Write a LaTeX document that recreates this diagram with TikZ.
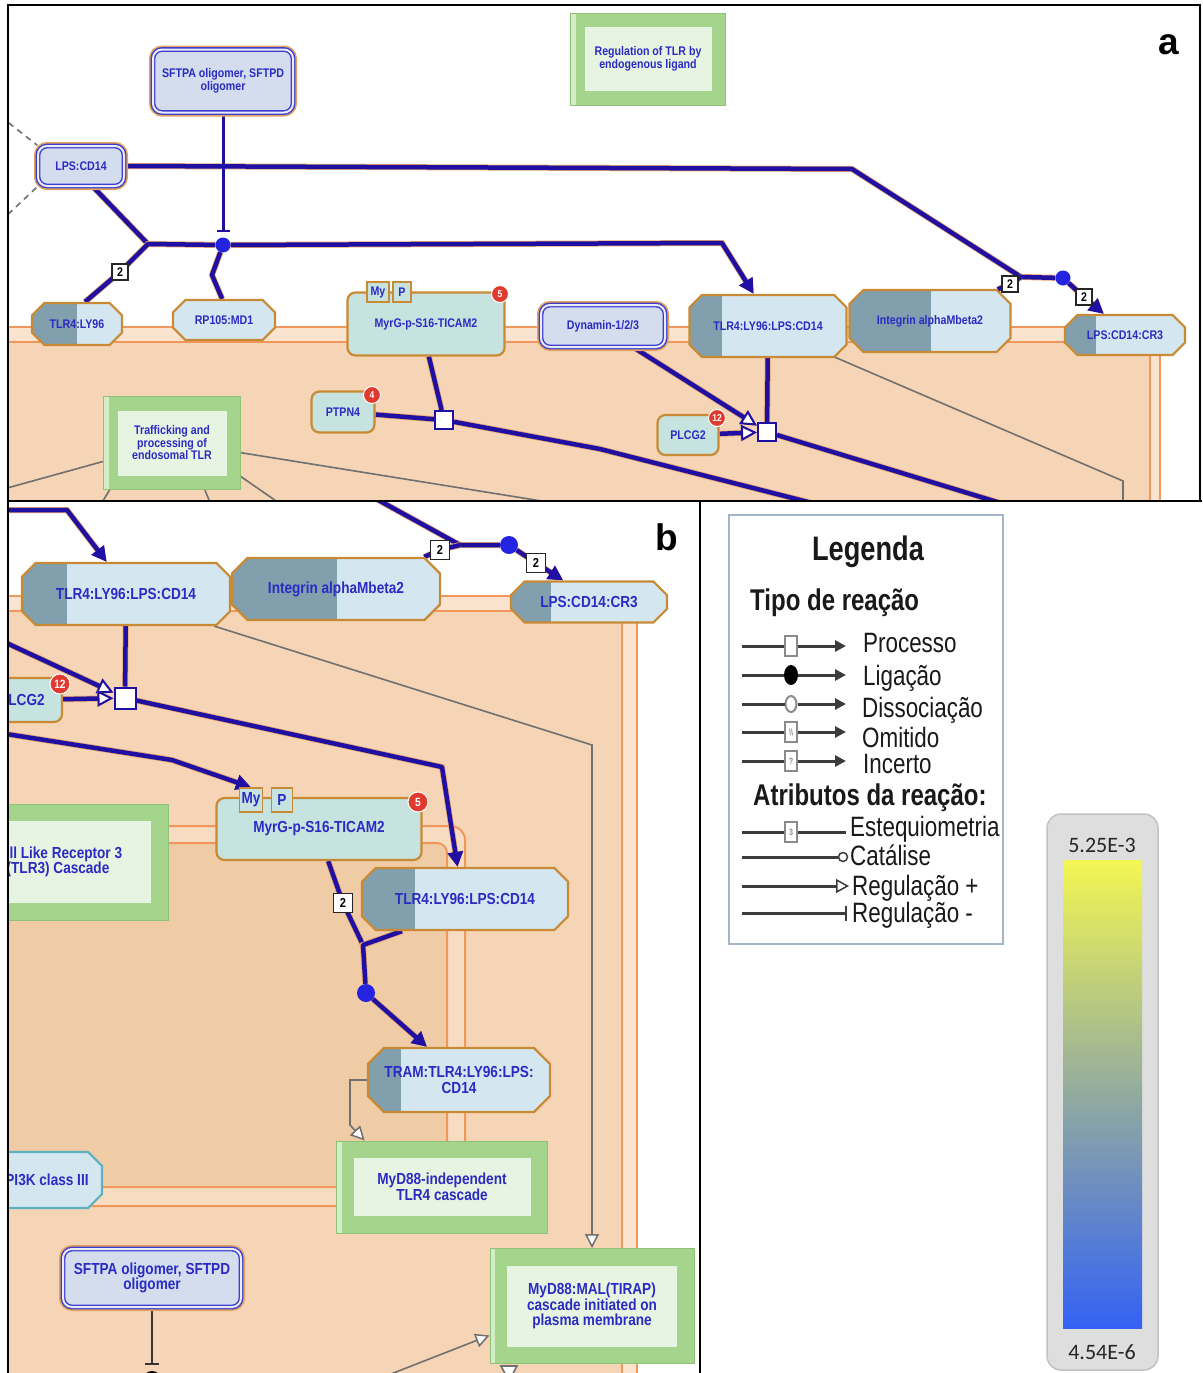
\documentclass[tikz,border=0pt]{standalone}
\usepackage{fontspec}
\setmainfont{Liberation Sans}
\newfontfamily\nodefont[FakeStretch=0.85]{Liberation Sans}
\newfontfamily\legfont[FakeStretch=0.8]{Liberation Sans}
\newfontfamily\barfont{Carlito}
\usetikzlibrary{shapes.misc,shapes.geometric,arrows.meta,positioning}

\definecolor{peach}{HTML}{F5D5B5}
\definecolor{membfill}{HTML}{FBE4CF}
\definecolor{innerfill}{HTML}{EFCBA6}
\definecolor{innerband}{HTML}{F8DCC1}
\definecolor{membline}{HTML}{F2975C}
\definecolor{cfill}{HTML}{D4E7F1}
\definecolor{cdark}{HTML}{819FAD}
\definecolor{pfill}{HTML}{C6E3DF}
\definecolor{efill}{HTML}{D3DDEE}
\definecolor{eblue}{HTML}{3D3DD2}
\definecolor{eglow}{HTML}{E3A25E}
\definecolor{nodeedge}{HTML}{C88A35}
\definecolor{nodeblue}{HTML}{2B2BC4}
\definecolor{pwgreen}{HTML}{A5D58D}
\definecolor{pwlight}{HTML}{E8F4E2}
\definecolor{pwedge}{HTML}{8DC277}
\definecolor{pwstrip}{HTML}{D3EEC6}
\definecolor{rxnblue}{HTML}{1F0FA3}
\definecolor{rxnhalo}{HTML}{E7A46C}
\definecolor{bindblue}{HTML}{2424E0}
\definecolor{greyline}{HTML}{707070}
\definecolor{badgered}{HTML}{E0392E}
\definecolor{pikedge}{HTML}{5FB0C0}
\definecolor{legdark}{HTML}{3C3C3C}
\definecolor{leggrey}{HTML}{8A8A8A}
\definecolor{legedge}{HTML}{A3B6C9}
\definecolor{barfill}{HTML}{DEDEDE}
\definecolor{baredge}{HTML}{C2C2C2}
\definecolor{cbtop}{HTML}{F3F652}
\definecolor{cbmid}{HTML}{92AB9F}
\definecolor{cbbot}{HTML}{3362F4}

\pgfdeclarelayer{bg}
\pgfdeclarelayer{edge}
\pgfsetlayers{bg,edge,main}

\newcommand{\sizeA}{\nodefont\bfseries\fontsize{12.5}{12.5}\selectfont}
\newcommand{\sizeB}{\nodefont\bfseries\fontsize{16}{15.5}\selectfont}

\tikzset{
  every node/.style={inner sep=0pt, align=center, font=\sizeA},
  cplx/.style={chamfered rectangle, chamfered rectangle xsep=8pt, chamfered rectangle ysep=8pt,
    draw=nodeedge, line width=2.2pt, fill=cfill, text=nodeblue,
    path picture={\fill[cdark] (path picture bounding box.north west) rectangle ([xshift=#1]path picture bounding box.south west);}},
  cplx/.default=0pt,
  prot/.style={rounded corners=8pt, draw=nodeedge, line width=2.2pt, fill=pfill, text=nodeblue},
  ent/.style={rounded corners=9pt, fill=efill, draw=eblue, line width=1.4pt, double=efill!50!white,
    double distance=2pt, preaction={draw=eglow, line width=8pt}, text=nodeblue},
  pw/.style={fill=pwgreen, draw=pwedge, line width=1pt, text=nodeblue,
    path picture={\fill[pwlight] ([shift={(#1,-#1)}]path picture bounding box.north west) rectangle ([shift={(-#1,#1)}]path picture bounding box.south east);
      \fill[pwstrip] (path picture bounding box.north west) rectangle ([xshift=5pt]path picture bounding box.south west);}},
  tab/.style={draw=nodeedge, line width=1.5pt, fill=pfill, text=nodeblue},
  badge/.style={circle, fill=badgered, draw=white, line width=1pt, text=white, minimum size=17pt,
    font=\nodefont\bfseries\fontsize{10}{10}\selectfont},
  stoich/.style={draw=black!85, line width=1.5pt, fill=white, text=black, minimum size=16pt},
  proc/.style={draw=rxnblue, line width=2pt, fill=white, minimum size=#1},
  bind/.style={circle, fill=bindblue, minimum size=#1},
  memb/.style={draw=membline, line width=2pt},
  rxn/.style={draw=rxnblue, line width=4.5pt, line join=round, preaction={draw=rxnhalo, line width=6pt}},
  sline/.style={draw=rxnblue, line width=3pt},
  kline/.style={draw=black!80, line width=1.5pt},
  hit/.style={-{Triangle[length=15pt,width=15pt]}},
  plus/.style={-{Triangle[open,length=16pt,width=16pt,fill=white,line width=2pt]}},
  inhib/.style={-{Bar[width=13pt,line width=2.5pt]}, shorten >=5pt},
  glink/.style={draw=greyline, line width=1.6pt},
  gplus/.style={-{Triangle[open,length=14pt,width=14pt,fill=white,line width=1.5pt]}},
  legline/.style={draw=legdark, line width=3pt},
  legtip/.style={-{Triangle[length=11pt,width=11pt]}},
  symbox/.style={draw=leggrey, line width=1.5pt, fill=white, minimum width=12pt, minimum height=20pt,
    text=leggrey, font=\legfont\bfseries\fontsize{9}{9}\selectfont},
  leghead/.style={anchor=base west, text=black!90, font=\legfont\bfseries\fontsize{30}{30}\selectfont},
  legtext/.style={anchor=base west, text=black!90, font=\legfont\fontsize{28}{28}\selectfont}
}

\begin{document}
\begin{tikzpicture}[x=1pt, y=-1pt]
\useasboundingbox (0,0) rectangle (1202,1373);

% backgrounds and membranes
\begin{pgfonlayer}{bg}
\fill[white] (0,0) rectangle (1202,1373);
\begin{scope}
\clip (8,5) rectangle (1200,501);
\fill[membfill] (8,327) rectangle (1160,510);
\fill[peach] (8,342) rectangle (1150,510);
\draw[memb] (0,327) -- (1160,327) -- (1160,510);
\draw[memb] (0,342) -- (1150,342) -- (1150,510);
\end{scope}
\begin{scope}
\clip (8,501) rectangle (700,1373);
\fill[membfill] (8,596) rectangle (637,1380);
\fill[peach] (8,611) rectangle (622,1380);
\fill[innerband, rounded corners=14pt] (-60,826) rectangle (465,1206);
\fill[innerfill, rounded corners=10pt] (-60,843) rectangle (447,1187);
\draw[memb, rounded corners=14pt] (-60,826) rectangle (465,1206);
\draw[memb, rounded corners=10pt] (-60,843) rectangle (447,1187);
\draw[memb] (0,596) -- (637,596) -- (637,1380);
\draw[memb] (0,611) -- (622,611) -- (622,1380);
\end{scope}
\end{pgfonlayer}

% panel a
\begin{scope}
\clip (8,5) rectangle (1200,501);
\node[ent, minimum width=140pt, minimum height=63pt] (sftpaA) at (223,81) {SFTPA oligomer, SFTPD\\oligomer};
\node[ent, minimum width=86pt, minimum height=40pt] (lpsA) at (81,166) {LPS:CD14};
\node[pw=14pt, minimum width=155pt, minimum height=92pt] (regA) at (648,59) {Regulation of TLR by\\endogenous ligand};
\node[cplx=45pt, minimum width=90pt, minimum height=42pt] (tlrlyA) at (77,324) {TLR4:LY96};
\node[cplx, minimum width=102pt, minimum height=40pt] (rpA) at (224,320) {RP105:MD1};
\node[prot, minimum width=157pt, minimum height=63pt] (myrgA) at (426,324) {MyrG-p-S16-TICAM2};
\node[tab, minimum width=22pt, minimum height=20pt] (myA) at (378,292) {My};
\node[tab, minimum width=18pt, minimum height=20pt] (pA) at (402,292) {P};
\node[badge] (b5A) at (500,294) {5};
\node[ent, minimum width=124pt, minimum height=42pt] (dynA) at (603,326) {Dynamin-1/2/3};
\node[cplx=32pt, minimum width=157pt, minimum height=62pt] (tlrlpsA) at (768,326) {TLR4:LY96:LPS:CD14};
\node[cplx=81pt, minimum width=161pt, minimum height=62pt] (integA) at (930,321) {Integrin alphaMbeta2};
\node[cplx=31pt, minimum width=120pt, minimum height=40pt] (crA) at (1125,335) {LPS:CD14:CR3};
\node[prot, minimum width=63pt, minimum height=41pt] (ptpnA) at (343,412) {PTPN4};
\node[badge] (b4A) at (372,395) {4};
\node[proc=18pt] (procA) at (444,420) {};
\node[prot, minimum width=61pt, minimum height=40pt] (plcgA) at (688,435) {PLCG2};
\node[badge] (b12A) at (717,418) {12};
\node[proc=18pt] (procB) at (767,432) {};
\node[pw=14pt, minimum width=137pt, minimum height=93pt] (trafA) at (172,443) {Trafficking and\\processing of\\endosomal TLR};
\node[bind=15pt] (dotA) at (1063,278) {};
\node[bind=15pt] (dotB) at (223,245) {};
\coordinate (jA) at (1021,277);
\coordinate (jB) at (148,244);
\node[stoich] (s1A) at (1010,284) {2};
\node[stoich] (s2A) at (1084,297) {2};
\node[stoich] (s3A) at (120,272) {2};
\node[font=\bfseries\fontsize{37}{37}\selectfont] (labA) at (1169,45) {a};
\end{scope}

\begin{pgfonlayer}{edge}
\begin{scope}
\clip (8,5) rectangle (1200,501);
\draw[glink, dash pattern=on 6pt off 5pt] (0,116) -- (lpsA.north west);
\draw[glink, dash pattern=on 6pt off 5pt] (0,222) -- (lpsA.south west);
\draw[glink] (tlrlpsA.-25) -- (1123,481) -- (1123,512);
\draw[glink] (trafA.195) -- (0,490);
\draw[glink] (trafA.-143) -- (96,512);
\draw[glink] (trafA.-55) -- (214,512);
\draw[glink] (trafA.-26) -- (292,512);
\draw[glink] (trafA.-8) -- (610,512);
\draw[rxn] (lpsA.east) -- (852,169) -- (jA) -- (dotA);
\draw[rxn] (integA.25) -- (s1A.center) -- (jA);
\draw[rxn, hit] (dotA) -- (s2A.center) -- (crA.135);
\draw[rxn] (lpsA.-60) -- (jB);
\draw[rxn] (tlrlyA.70) -- (s3A.center) -- (jB) -- (dotB);
\draw[rxn, hit] (dotB) -- (722,243) -- (tlrlpsA.114);
\draw[rxn] (rpA.95) -- (212,275) -- (dotB);
\draw[sline, inhib] (sftpaA) -- (dotB);
\draw[rxn] (myrgA.-85) -- (procA);
\draw[rxn] (ptpnA) -- (procA);
\draw[rxn] (procA) -- (600,449) -- (812,503);
\draw[rxn, plus] (dynA.-35) -- (procB);
\draw[rxn, plus] (plcgA) -- (procB);
\draw[rxn] (tlrlpsA) -- (procB);
\draw[rxn] (procB) -- (1030,512);
\end{scope}
\end{pgfonlayer}

% panel b
\begin{scope}[every node/.append style={font=\sizeB}]
\clip (8,501) rectangle (700,1373);
\node[cplx=45pt, minimum width=208pt, minimum height=62pt] (tlrlpsB) at (126,594) {TLR4:LY96:LPS:CD14};
\node[cplx=105pt, minimum width=208pt, minimum height=62pt] (integB) at (336,589) {Integrin alphaMbeta2};
\node[cplx=40pt, minimum width=156pt, minimum height=41pt] (crB) at (589,602) {LPS:CD14:CR3};
\node[prot, minimum width=80pt, minimum height=44pt] (plcgB) at (22,700) {PLCG2};
\node[badge, minimum size=20pt, font=\nodefont\bfseries\fontsize{12}{12}\selectfont] (b12B) at (60,684) {12};
\node[proc=21pt] (procC) at (125,698) {};
\node[prot, minimum width=205pt, minimum height=62pt] (myrgB) at (319,829) {MyrG-p-S16-TICAM2};
\node[tab, minimum width=23pt, minimum height=24pt] (myB) at (251,800) {My};
\node[tab, minimum width=21pt, minimum height=24pt] (pB) at (282,800) {P};
\node[badge, minimum size=20pt, font=\nodefont\bfseries\fontsize{12}{12}\selectfont] (b5B) at (418,802) {5};
\node[pw=17pt, minimum width=220pt, minimum height=116pt] (tlr3B) at (58,862) {Toll Like Receptor 3\\(TLR3) Cascade};
\node[cplx=53pt, minimum width=206pt, minimum height=62pt] (tlrlps2B) at (465,899) {TLR4:LY96:LPS:CD14};
\node[cplx=33pt, minimum width=182pt, minimum height=64pt] (tramB) at (459,1080) {TRAM:TLR4:LY96:LPS:\\CD14};
\node[pw=17pt, minimum width=211pt, minimum height=92pt] (indepB) at (442,1187) {MyD88-independent\\TLR4 cascade};
\node[cplx, draw=pikedge, minimum width=110pt, minimum height=56pt] (pi3kB) at (47,1180) {PI3K class III};
\node[ent, minimum width=178pt, minimum height=58pt] (sftpaB) at (152,1278) {SFTPA oligomer, SFTPD\\oligomer};
\node[pw=17pt, minimum width=204pt, minimum height=115pt] (malB) at (592,1306) {MyD88:MAL(TIRAP)\\cascade initiated on\\plasma membrane};
\node[bind=18pt] (dotC) at (509,545) {};
\node[bind=18pt] (dotD) at (366,993) {};
\node[bind=18pt, fill=black] (dotE) at (152,1380) {};
\coordinate (jC) at (460,545);
\coordinate (jD) at (363,945);
\node[stoich, minimum size=19pt, font=\nodefont\bfseries\fontsize{13}{13}\selectfont] (s1B) at (440,550) {2};
\node[stoich, minimum size=19pt, font=\nodefont\bfseries\fontsize{13}{13}\selectfont] (s2B) at (536,563) {2};
\node[stoich, minimum size=19pt, font=\nodefont\bfseries\fontsize{13}{13}\selectfont] (s3B) at (343,903) {2};
\draw[glink, fill=white] (501,1366) -- (517,1366) -- (509,1381) -- cycle;
\node[font=\bfseries\fontsize{37}{37}\selectfont] (labB) at (667,537) {b};
\end{scope}

\begin{pgfonlayer}{edge}
\begin{scope}
\clip (8,501) rectangle (700,1373);
\draw[glink, gplus] (tlrlpsB.-20) -- (592,745) -- (malB.north);
\draw[glink, gplus] (tramB.west) -- (350,1080) -- (350,1125) -- (indepB.149);
\draw[glink, gplus] (350,1390) -- (malB.196);
\draw[rxn, hit] (0,510) -- (67,510) -- (tlrlpsB.121);
\draw[rxn] (360,490) -- (jC) -- (dotC);
\draw[rxn] (integB.20) -- (s1B.center) -- (jC);
\draw[rxn, hit] (dotC) -- (s2B.center) -- (crB.140);
\draw[rxn] (tlrlpsB) -- (procC);
\draw[rxn, plus] (0,640) -- (procC);
\draw[rxn, plus] (plcgB) -- (procC);
\draw[rxn, hit] (procC) -- (442,767) -- (tlrlps2B.103);
\draw[rxn, hit] (0,733) -- (172,760) -- (myB.north);
\draw[rxn] (myrgB.-74) -- (s3B.center) -- (jD);
\draw[rxn] (tlrlps2B.-153) -- (jD) -- (dotD);
\draw[rxn, hit] (dotD) -- (tramB.134);
\draw[kline, -{Bar[width=14pt,line width=2pt]}, shorten >=6pt] (sftpaB) -- (dotE);
\end{scope}
\end{pgfonlayer}

% legend
\node[draw=legedge, line width=1.5pt, minimum width=274pt, minimum height=429pt] (legbox) at (866,729.5) {};
\node[anchor=base, text=black!90, font=\legfont\bfseries\fontsize{34}{34}\selectfont] (legtitle) at (868,560) {Legenda};
\node[leghead] (legtipo) at (750,610) {Tipo de reação};
\coordinate (l1) at (742,646); \coordinate (r1) at (846,646);
\node[symbox] (sym1) at (791,646) {};
\draw[legline] (l1) -- (sym1); \draw[legline, legtip] (sym1) -- (r1);
\node[legtext] (t1) at (863,652) {Processo};
\coordinate (l2) at (742,675); \coordinate (r2) at (846,675);
\node[ellipse, fill=black, minimum width=14pt, minimum height=20pt] (sym2) at (791,675) {};
\draw[legline] (l2) -- (sym2); \draw[legline, legtip] (sym2) -- (r2);
\node[legtext] (t2) at (863,685) {Ligação};
\coordinate (l3) at (742,704); \coordinate (r3) at (846,704);
\node[ellipse, draw=leggrey, line width=2pt, fill=white, minimum width=11pt, minimum height=16pt] (sym3) at (791,704) {};
\draw[legline] (l3) -- (sym3); \draw[legline, legtip] (sym3) -- (r3);
\node[legtext] (t3) at (862,717) {Dissociação};
\coordinate (l4) at (742,732); \coordinate (r4) at (846,732);
\node[symbox] (sym4) at (791,732) {\textbackslash\textbackslash};
\draw[legline] (l4) -- (sym4); \draw[legline, legtip] (sym4) -- (r4);
\node[legtext] (t4) at (862,747) {Omitido};
\coordinate (l5) at (742,761); \coordinate (r5) at (846,761);
\node[symbox] (sym5) at (791,761) {?};
\draw[legline] (l5) -- (sym5); \draw[legline, legtip] (sym5) -- (r5);
\node[legtext] (t5) at (863,773) {Incerto};
\node[leghead] (legattr) at (753,805) {Atributos da reação:};
\coordinate (l6) at (742,832); \coordinate (r6) at (846,832);
\node[symbox] (sym6) at (791,832) {3};
\draw[legline] (l6) -- (sym6) -- (r6);
\node[legtext] (t6) at (850,836) {Estequiometria};
\coordinate (l7) at (742,857);
\node[circle, draw=legdark, line width=1.5pt, fill=white, minimum size=9pt] (sym7) at (843,857) {};
\draw[legline] (l7) -- (sym7);
\node[legtext] (t7) at (850,865) {Catálise};
\coordinate (l8) at (742,886); \coordinate (r8) at (849,886);
\draw[legline, -{Triangle[open,length=13pt,width=14pt,fill=white,line width=1.5pt]}] (l8) -- (r8);
\node[legtext] (t8) at (852,895) {Regulação +};
\coordinate (l9) at (742,913); \coordinate (r9) at (847,913);
\draw[legline, -{Bar[width=15pt,line width=2pt]}] (l9) -- (r9);
\node[legtext] (t9) at (852,922) {Regulação -};

% colour scale
\node[draw=baredge, line width=1.5pt, fill=barfill, rounded corners=14pt, minimum width=111pt, minimum height=556pt] (cbar) at (1102.5,1092) {};
\shade[top color=cbtop, bottom color=cbbot, middle color=cbmid] (1063,860) rectangle (1142,1328);
\node[font=\barfont\fontsize{22}{22}\selectfont, text=black!85] (cbmax) at (1102,845) {5.25E-3};
\node[font=\barfont\fontsize{22}{22}\selectfont, text=black!85] (cbmin) at (1102,1352) {4.54E-6};

% panel frames
\draw[line width=2.5pt] (8,5) rectangle (1200,501);
\draw[line width=2.5pt] (8,501) -- (8,1373);
\draw[line width=2.5pt] (700,501) -- (700,1373);
\draw[line width=2.5pt] (1200,501) -- (1202,501);
\end{tikzpicture}
\end{document}
